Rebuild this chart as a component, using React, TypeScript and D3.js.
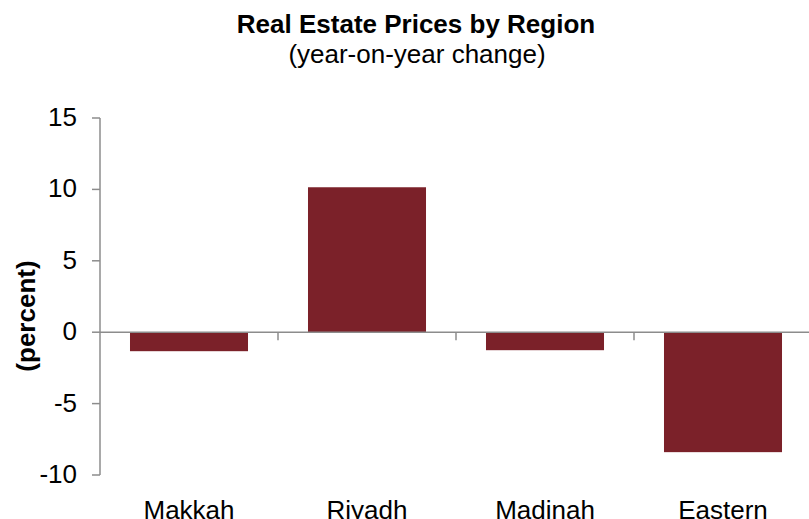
import React from "react";
import * as d3 from "d3";

const categories = ["Makkah", "Riyadh", "Madinah", "Eastern"];
const values = [-1.33, 10.15, -1.26, -8.4];
const yTicks = [-10, -5, 0, 5, 10, 15];

const W = 809;
const H = 519;
const FONT = "'Liberation Sans', Arial, sans-serif";
const AXIS = "#8c8c8c";
const BAR = "#7b2129";

export default function App() {
  const y = d3.scaleLinear().domain([-10, 15]).range([475, 118]);
  const x = d3.scaleBand<string>().domain(categories).range([100, 812]).paddingInner(0.337).paddingOuter(0.1685);
  const step = x.step();
  const x0 = 100;

  return (
    <svg width={W} height={H} style={{ position: "absolute", left: 0, top: 0, background: "#fff" }}>
      <text x={416} y={33} textAnchor="middle" fontFamily={FONT} fontWeight="bold" fontSize={26}>Real Estate Prices by Region</text>
      <text x={417} y={63} textAnchor="middle" fontFamily={FONT} fontSize={26}>(year-on-year change)</text>

      {categories.map((c, i) => {
        const v = values[i];
        return (
          <rect key={c} x={x(c)} width={x.bandwidth()} y={y(Math.max(0, v))} height={Math.abs(y(v) - y(0))} fill={BAR} />
        );
      })}

      {/* y axis */}
      <line x1={x0} x2={x0} y1={y(15)} y2={y(-10)} stroke={AXIS} strokeWidth={1.5} />
      {yTicks.map((t) => (
        <g key={t}>
          <line x1={x0 - 8} x2={x0} y1={y(t)} y2={y(t)} stroke={AXIS} strokeWidth={1.5} />
          <text x={77} y={y(t) + 8} textAnchor="end" fontFamily={FONT} fontSize={26}>{t}</text>
        </g>
      ))}

      {/* x axis at zero */}
      <line x1={x0} x2={W} y1={y(0)} y2={y(0)} stroke={AXIS} strokeWidth={1.5} />
      {categories.slice(1).map((c, i) => {
        const bx = x0 + step * (i + 1);
        return <line key={c} x1={bx} x2={bx} y1={y(0)} y2={y(0) + 8} stroke={AXIS} strokeWidth={1.5} />;
      })}

      {categories.map((c) => (
        <text key={c} x={(x(c) as number) + x.bandwidth() / 2} y={519} textAnchor="middle" fontFamily={FONT} fontSize={26}>{c}</text>
      ))}

      <text transform={`translate(35, 316) rotate(-90)`} textAnchor="middle" fontFamily={FONT} fontWeight="bold" fontSize={26}>(percent)</text>
    </svg>
  );
}
